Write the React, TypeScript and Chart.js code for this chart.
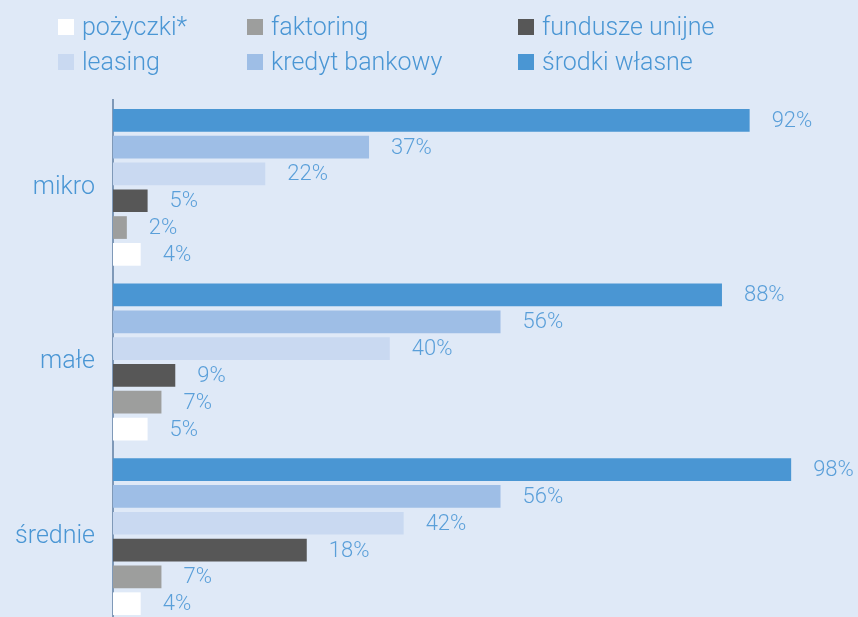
import React, { useEffect, useRef } from "react";
import { Chart, registerables } from "chart.js";

Chart.register(...registerables);

const categories = ["mikro", "małe", "średnie"];
const seriesNames = ["środki własne", "kredyt bankowy", "leasing", "fundusze unijne", "faktoring", "pożyczki*"];
const seriesColors = ["#4a96d3", "#9ebee6", "#c9d9f1", "#575757", "#9d9e9d", "#ffffff"];
// bar lengths as drawn in the picture
const srodkiWlasne = [92, 88, 98];
const kredytBankowy = [37, 56, 56];
const leasing = [22, 40, 42];
const funduszeUnijne = [5, 9, 28];
const faktoring = [2, 7, 7];
const pozyczki = [4, 5, 4];
// value labels as printed in the picture
const srodkiWlasneLabels = [92, 88, 98];
const kredytBankowyLabels = [37, 56, 56];
const leasingLabels = [22, 40, 42];
const funduszeUnijneLabels = [5, 9, 18];
const faktoringLabels = [2, 7, 7];
const pozyczkiLabels = [4, 5, 4];

const seriesValues = [srodkiWlasne, kredytBankowy, leasing, funduszeUnijne, faktoring, pozyczki];
const seriesLabels = [srodkiWlasneLabels, kredytBankowyLabels, leasingLabels, funduszeUnijneLabels, faktoringLabels, pozyczkiLabels];

const BG = "#dfe9f7";
const TEXT = "#4a96d4";
const FONT = "Roboto, 'Liberation Sans', sans-serif";

const bgPlugin = {
  id: "bg",
  beforeDraw(chart: any) {
    const { ctx, width, height } = chart;
    ctx.save();
    ctx.fillStyle = BG;
    ctx.fillRect(0, 0, width, height);
    ctx.restore();
  },
};

const legendPlugin = {
  id: "gridLegend",
  afterDraw(chart: any) {
    const { ctx } = chart;
    const ds = chart.data.datasets;
    const colX = [58, 247, 518];
    const rowY = [27, 62];
    ctx.save();
    ctx.font = `300 25px ${FONT}`;
    ctx.textBaseline = "middle";
    ctx.textAlign = "left";
    const n = ds.length;
    for (let i = 0; i < n; i++) {
      const d = ds[n - 1 - i];
      const col = i % 3;
      const row = Math.floor(i / 3);
      const x = colX[col];
      const y = rowY[row];
      ctx.fillStyle = d.backgroundColor;
      ctx.fillRect(x, y - 8, 16, 16);
      ctx.fillStyle = TEXT;
      ctx.fillText(d.label, x + 24, y + 2);
    }
    ctx.restore();
  },
};

const valueLabelPlugin = {
  id: "valueLabels",
  afterDatasetsDraw(chart: any) {
    const { ctx } = chart;
    ctx.save();
    ctx.font = `300 22px ${FONT}`;
    ctx.fillStyle = "#5a9fd9";
    ctx.textBaseline = "middle";
    ctx.textAlign = "left";
    chart.data.datasets.forEach((d: any, di: number) => {
      const meta = chart.getDatasetMeta(di);
      meta.data.forEach((el: any, i: number) => {
        ctx.fillText(`${seriesLabels[di][i]}%`, el.x + 22, el.y + 1);
      });
    });
    ctx.restore();
  },
};

export default function App() {
  const ref = useRef<HTMLCanvasElement>(null);
  useEffect(() => {
    if (!ref.current) return;
    const chart = new Chart(ref.current, {
      type: "bar",
      data: {
        labels: categories,
        datasets: seriesNames.map((name, i) => ({
          label: name,
          data: seriesValues[i],
          backgroundColor: seriesColors[i],
          borderWidth: 0,
          categoryPercentage: 0.921,
          barPercentage: 0.847,
        })),
      },
      options: {
        indexAxis: "y",
        animation: false,
        responsive: false,
        maintainAspectRatio: false,
        layout: { padding: { top: 100, right: 53, bottom: 0, left: 0 } },
        plugins: {
          legend: { display: false },
          tooltip: { enabled: false },
        },
        scales: {
          x: {
            display: false,
            min: 0,
            max: 100,
          },
          y: {
            grid: { display: false, drawTicks: false },
            border: { display: true, color: "#7f99b8", width: 2 },
            ticks: {
              color: TEXT,
              font: { family: FONT, size: 25, weight: "300" },
              padding: 18,
            },
            afterFit(scale: any) {
              scale.width = 113;
              scale.paddingTop = 0;
              scale.paddingBottom = 0;
            },
          },
        },
      },
      plugins: [bgPlugin, legendPlugin, valueLabelPlugin],
    });
    return () => chart.destroy();
  }, []);
  return (
    <div style={{ position: "fixed", left: 0, top: 0, width: 858, height: 617, overflow: "hidden", background: BG }}>
      <canvas ref={ref} width={858} height={624} style={{ display: "block", width: 858, height: 624 }} />
    </div>
  );
}
